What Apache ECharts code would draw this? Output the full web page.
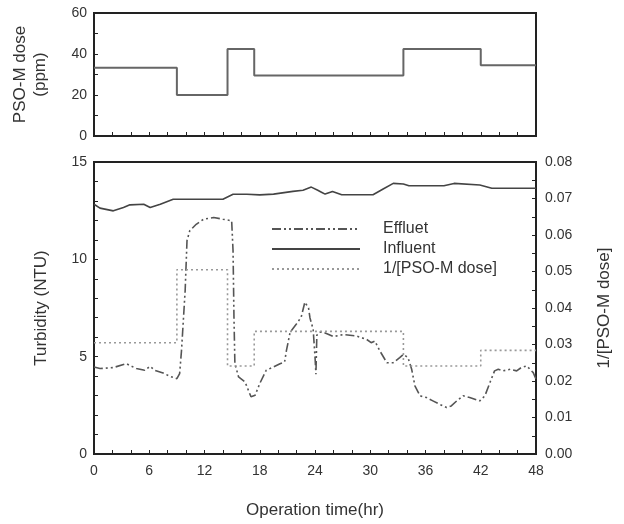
<!DOCTYPE html>
<html>
<head>
<meta charset="utf-8">
<script src="https://cdn.jsdelivr.net/npm/echarts@6/dist/echarts.min.js"></script>
<style>
html,body{margin:0;padding:0;background:#fff;}
#c{width:624px;height:524px;}
</style>
</head>
<body>
<div id="c"></div>
<script>
// ---- data ----
var doseHours = [0, 9, 14.5, 17.4, 33.6, 42, 48];
var doseValues = [33.3, 20, 42.5, 29.5, 42.5, 34.5, 34.5];
var invDoseValues = [0.0305, 0.0505, 0.0241, 0.0336, 0.0241, 0.0284, 0.0284];

var effluentHours = [0,0.65,2.1,3.5,4.6,5.5,6.1,6.6,7.5,8.25,9.0,9.3,9.5,9.9,10.1,10.4,11.1,11.9,13.0,14.0,14.95,15.1,15.2,15.3,15.7,16.4,17.05,17.5,18.0,18.7,19.5,20.2,20.7,20.9,21.3,22.0,22.5,22.9,23.3,23.45,23.8,24.0,24.1,24.2,24.5,24.9,25.3,26.0,27.1,28.5,29.6,30.1,30.5,31.05,31.8,32.5,33.2,33.6,34.1,34.5,34.85,35.4,36.1,36.8,37.5,38.3,38.8,39.4,40.1,40.8,41.9,42.45,43.0,43.5,43.9,44.4,45.2,45.9,46.4,47.0,47.7,48.0];
var effluentValues = [4.47,4.39,4.44,4.64,4.39,4.3,4.5,4.3,4.16,3.99,3.87,4.13,5.3,8.4,10.96,11.47,11.8,12.06,12.15,12.06,11.98,10.44,7.03,4.64,3.96,3.7,2.94,3.02,3.62,4.3,4.47,4.64,4.73,5.32,6.26,6.69,7.03,7.8,7.5,7.0,6.4,5.0,4.1,6.1,6.26,6.26,6.18,6.03,6.14,6.06,5.89,5.72,5.8,5.29,4.69,4.69,4.95,5.12,4.95,4.35,3.5,2.99,2.9,2.73,2.56,2.39,2.47,2.73,2.99,2.9,2.73,2.99,3.67,4.27,4.35,4.27,4.35,4.27,4.44,4.52,4.18,3.84];

var influentHours = [0,0.65,2.1,3.2,3.9,5.4,6.1,7.2,8.6,10.1,14.0,15.1,16.6,18.0,19.5,21.6,22.7,23.6,24.3,24.7,25.1,25.9,26.9,30.3,31.4,32.5,33.6,34.2,38.0,39.1,41.9,43.2,48];
var influentValues = [12.83,12.63,12.49,12.66,12.8,12.83,12.66,12.83,13.09,13.09,13.09,13.34,13.34,13.31,13.35,13.49,13.55,13.71,13.55,13.45,13.35,13.49,13.32,13.32,13.61,13.9,13.87,13.78,13.78,13.9,13.82,13.65,13.65];

var xTicks = [0, 6, 12, 18, 24, 30, 36, 42, 48];

function pairs(xs, ys){ return xs.map(function(x,i){ return [x, ys[i]]; }); }

var FONT = '"Liberation Sans", Arial, sans-serif';
var TXT = '#333';
var AX = '#222';

function xAxisCfg(grid, showLabel, name){
  return {
    type:'value', gridIndex:grid, min:0, max:48, interval:6,
    name:name||'', nameLocation:'middle', nameGap:48,
    nameTextStyle:{fontFamily:FONT, fontSize:17, color:TXT},
    axisLine:{show:true, onZero:false, lineStyle:{color:AX, width:2}},
    axisTick:{show:true, inside:true, length:4, lineStyle:{color:AX, width:1}},
    minorTick:{show:true, splitNumber:3, length:4, lineStyle:{color:AX, width:1}},
    axisLabel:{show:showLabel, fontFamily:FONT, fontSize:14, color:TXT, margin:10,
      formatter:function(v){ return xTicks.indexOf(v) >= 0 ? String(v) : ''; }},
    splitLine:{show:false}
  };
}

var option = {
  backgroundColor:'#fff',
  animation:false,
  grid:[
    {left:94, top:13, width:442, height:123, show:true, borderColor:AX, borderWidth:2, backgroundColor:'transparent'},
    {left:94, top:162, width:442, height:293, show:true, borderColor:AX, borderWidth:2, backgroundColor:'transparent'}
  ],
  legend:{
    orient:'vertical', left:266, top:216,
    itemWidth:88, itemHeight:10, itemGap:4,
    itemStyle:{opacity:0},
    textStyle:{fontFamily:FONT, fontSize:16, color:TXT, padding:[0,0,0,18]},
    data:['Effluet','Influent','1/[PSO-M dose]']
  },
  xAxis:[ xAxisCfg(0,false), xAxisCfg(1,true,'Operation time(hr)') ],
  yAxis:[
    {type:'value', gridIndex:0, min:0, max:60, interval:20,
     name:'PSO-M dose\n(ppm)', nameLocation:'middle', nameGap:44,
     nameTextStyle:{fontFamily:FONT, fontSize:17, color:TXT, lineHeight:20, align:'center'},
     axisLine:{show:true, lineStyle:{color:AX, width:2}},
     axisTick:{show:true, inside:true, length:4, lineStyle:{color:AX}},
     minorTick:{show:true, splitNumber:2, length:4, lineStyle:{color:AX}},
     axisLabel:{fontFamily:FONT, fontSize:14, color:TXT, margin:7},
     splitLine:{show:false}},
    {type:'value', gridIndex:1, min:0, max:15, interval:5, position:'left',
     name:'Turbidity (NTU)', nameLocation:'middle', nameGap:44,
     nameTextStyle:{fontFamily:FONT, fontSize:17, color:TXT},
     axisLine:{show:true, lineStyle:{color:AX, width:2}},
     axisTick:{show:true, inside:true, length:4, lineStyle:{color:AX}},
     minorTick:{show:true, splitNumber:5, length:4, lineStyle:{color:AX}},
     axisLabel:{fontFamily:FONT, fontSize:14, color:TXT, margin:7},
     splitLine:{show:false}},
    {type:'value', gridIndex:1, min:0, max:0.08, interval:0.01, position:'right',
     name:'1/[PSO-M dose]', nameLocation:'middle', nameGap:60, nameRotate:90,
     nameTextStyle:{fontFamily:FONT, fontSize:17, color:TXT},
     axisLine:{show:true, lineStyle:{color:AX, width:2}},
     axisTick:{show:true, inside:true, length:4, lineStyle:{color:AX}},
     minorTick:{show:true, splitNumber:2, length:4, lineStyle:{color:AX}},
     axisLabel:{fontFamily:FONT, fontSize:14, color:TXT, margin:9,
       formatter:function(v){ return v.toFixed(2); }},
     splitLine:{show:false}}
  ],
  series:[
    {name:'PSO-M dose', type:'line', xAxisIndex:0, yAxisIndex:0, step:'end',
     data:pairs(doseHours, doseValues), symbol:'none',
     lineStyle:{color:'#666', width:2}},
    {name:'Effluet', type:'line', xAxisIndex:1, yAxisIndex:1,
     data:pairs(effluentHours, effluentValues), symbol:'none',
     itemStyle:{color:'#555'},
     lineStyle:{color:'#555', width:1.6, type:[9,3,2,3,2,3]}},
    {name:'Influent', type:'line', xAxisIndex:1, yAxisIndex:1,
     data:pairs(influentHours, influentValues), symbol:'none',
     itemStyle:{color:'#444'},
     lineStyle:{color:'#444', width:1.6}},
    {name:'1/[PSO-M dose]', type:'line', xAxisIndex:1, yAxisIndex:2, step:'end',
     data:pairs(doseHours, invDoseValues), symbol:'none',
     itemStyle:{color:'#999'},
     lineStyle:{color:'#999', width:1.6, type:[2,3]}}
  ]
};

var chart = echarts.init(document.getElementById('c'), null, {renderer:'canvas'});
chart.setOption(option);
</script>
</body>
</html>
